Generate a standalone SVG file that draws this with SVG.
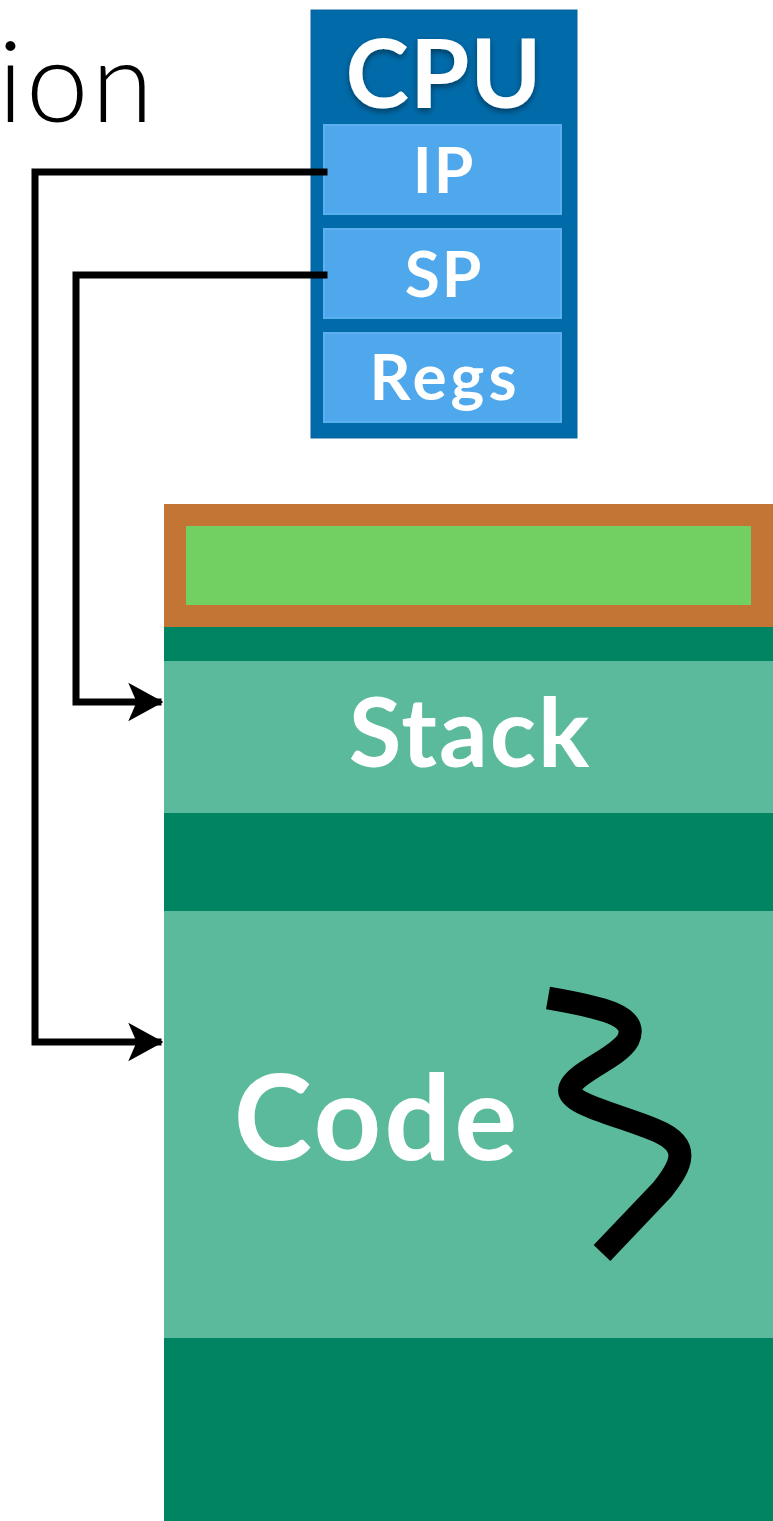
<svg xmlns="http://www.w3.org/2000/svg" width="773" height="1521" viewBox="0 0 773 1521">
  <defs>
    <style>
      .bold { font-family: Lato, "Liberation Sans", sans-serif; font-weight: 700; fill: #ffffff; text-anchor: middle; }
      .thin { font-family: Lato, "Liberation Sans", sans-serif; font-weight: 300; fill: #000000; }
      .reg { fill: #4fa8ec; stroke: #5cb0ee; stroke-width: 2; }
      .light { fill: #5bba9c; }
      .dark { fill: #008461; }
      .wire { fill: none; stroke: #000000; stroke-width: 7; stroke-linejoin: miter; stroke-linecap: square; }
    </style>
    <filter id="shadow" x="-10%" y="-10%" width="130%" height="140%">
      <feDropShadow dx="0" dy="3" stdDeviation="3" flood-color="#000000" flood-opacity="0.45"/>
    </filter>
    <marker id="arrow" viewBox="0 0 10 11" refX="8.5" refY="5.5" markerWidth="5" markerHeight="5.5" markerUnits="strokeWidth" orient="auto">
      <path d="M0,0 L10,5.5 L0,11 L2.4,5.5 Z" fill="#000000"/>
    </marker>
  </defs>

  <rect width="773" height="1521" fill="#ffffff"/>

  <!-- heading fragment -->
  <text class="thin" x="-2" y="122" font-size="112" letter-spacing="3">ion</text>

  <!-- memory layout -->
  <g id="memory">
    <rect class="dark" x="164" y="626" width="609" height="895"/>
    <g id="header">
      <rect x="164" y="504" width="609" height="123" fill="#c37536"/>
      <rect x="186" y="526" width="565" height="79" fill="#72cf62"/>
    </g>
    <g id="stack">
      <rect class="light" x="164" y="661" width="609" height="152"/>
      <text class="bold" x="470" y="767" font-size="96" letter-spacing="2">Stack</text>
    </g>
    <g id="code">
      <rect class="light" x="164" y="911" width="609" height="427"/>
      <text class="bold" x="377" y="1160" font-size="118" letter-spacing="3">Code</text>
      <path d="M548,998 C600,1007 640,1015 628,1040 C618,1058 575,1072 570,1088 C565,1104 620,1115 655,1130 C692,1145 682,1165 662,1190 L602,1253" fill="none" stroke="#000000" stroke-width="23"/>
    </g>
  </g>

  <!-- processor -->
  <g id="cpu">
    <rect x="311" y="10" width="266" height="428" fill="#016baa" stroke="#0a64a0" stroke-width="1"/>
    <text class="bold" x="444" y="108" font-size="96" letter-spacing="1" filter="url(#shadow)">CPU</text>
    <g id="ip">
      <rect class="reg" x="324" y="125" width="237" height="89"/>
      <text class="bold" x="444" y="193" font-size="64" letter-spacing="2">IP</text>
    </g>
    <g id="sp">
      <rect class="reg" x="324" y="229" width="237" height="89"/>
      <text class="bold" x="444" y="297" font-size="64" letter-spacing="2">SP</text>
    </g>
    <g id="regs">
      <rect class="reg" x="324" y="333" width="237" height="89"/>
      <text class="bold" x="445" y="400" font-size="64" letter-spacing="4">Regs</text>
    </g>
  </g>

  <!-- pointers from registers into memory -->
  <g id="connectors">
    <path class="wire" d="M324,172 H35 V1042 H158" marker-end="url(#arrow)"/>
    <path class="wire" d="M324,275 H76 V702 H158" marker-end="url(#arrow)"/>
  </g>
</svg>
